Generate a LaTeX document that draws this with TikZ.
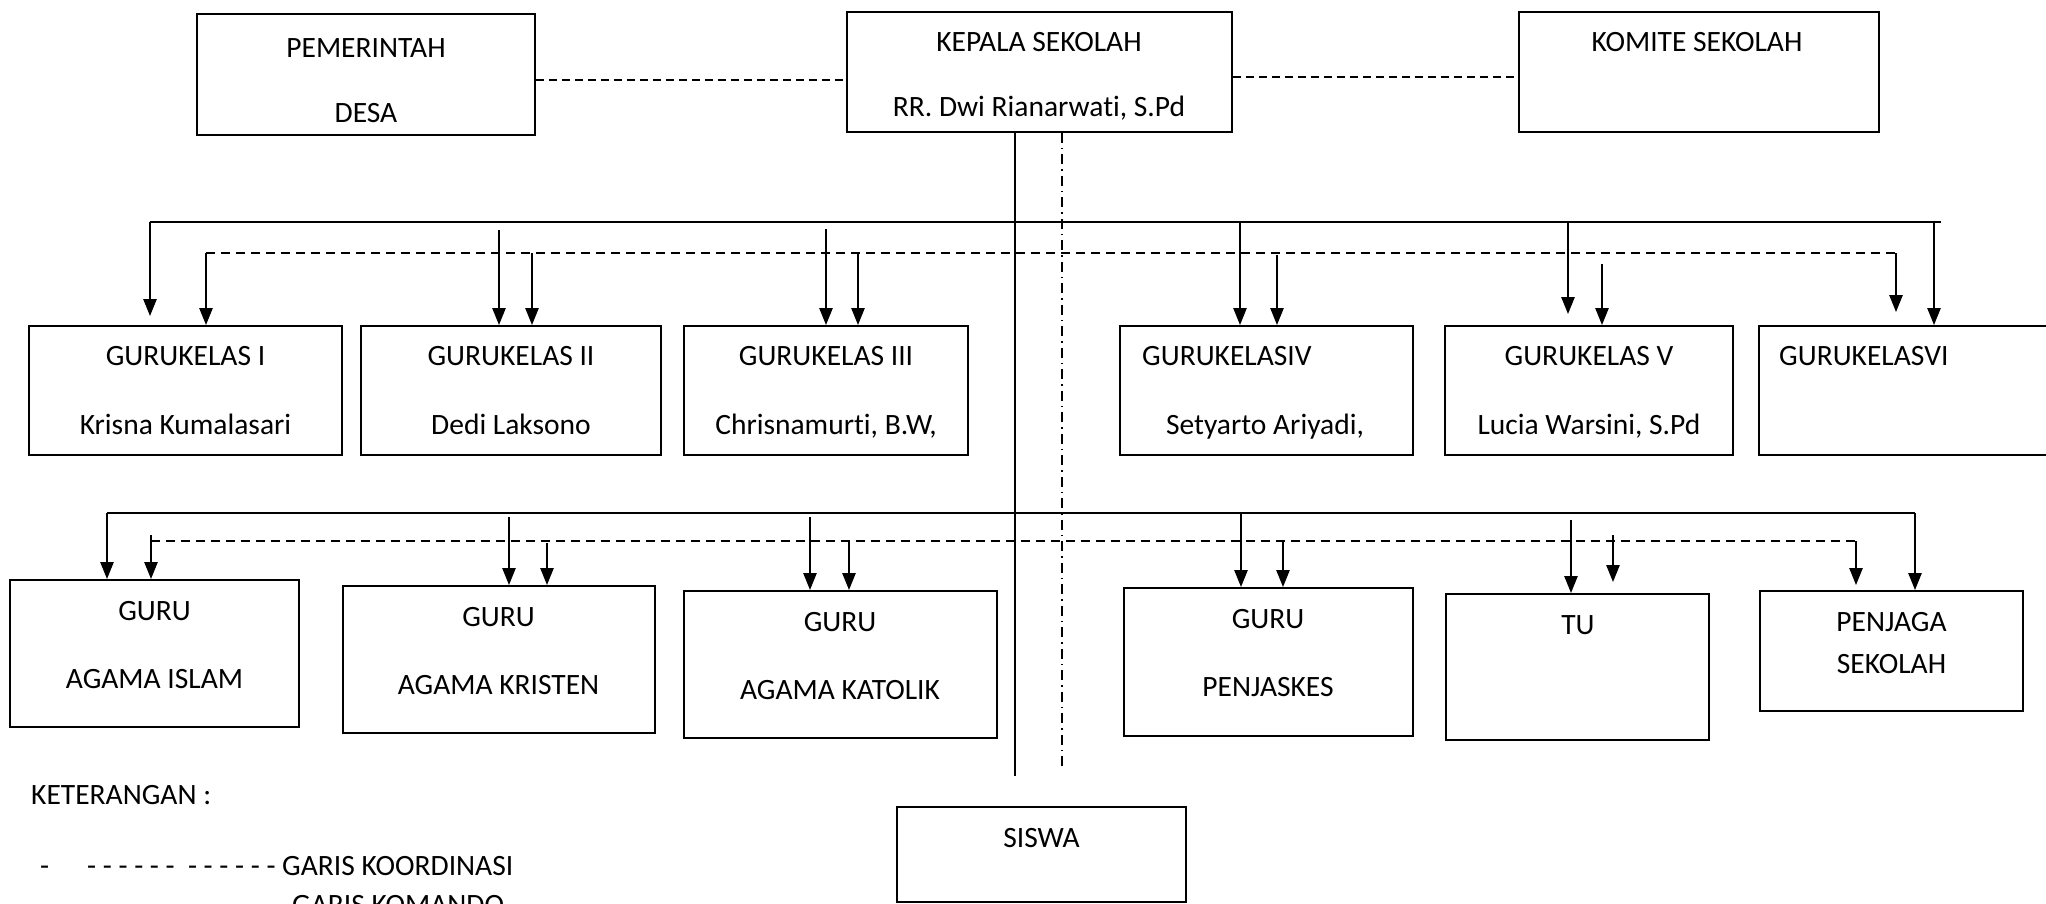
\documentclass[tikz,border=0pt]{standalone}
\usepackage{fontspec}
\setmainfont{Carlito}[Ligatures={TeX,NoCommon}]
\usetikzlibrary{arrows.meta}

\tikzset{
  kotak/.style={draw, line width=1.8pt, inner sep=0pt},
  teks/.style={font=\fontsize{29.5}{35}\selectfont, inner sep=0pt, anchor=base},
  komando/.style={line width=2.4pt},
  panah/.style={line width=2.4pt, -{Triangle[length=17pt,width=13pt]}},
  koord/.style={line width=2pt, dash pattern=on 9pt off 6pt},
  koordatas/.style={line width=2pt, dash pattern=on 8pt off 5pt},
  titiksiswa/.style={line width=1.8pt, dash pattern=on 10pt off 5pt on 1.5pt off 5pt},
}

\begin{document}
\begin{tikzpicture}[x=1pt,y=-1pt]
\useasboundingbox (0,0) rectangle (2046,903);
% atas
  \node[kotak, minimum width=338pt, minimum height=121pt] (pemda) at (366,74.5) {};
  \node[kotak, minimum width=385pt, minimum height=120pt] (kepsek) at (1039.5,72) {};
  \node[kotak, minimum width=360pt, minimum height=120pt] (komite) at (1699,72) {};
  \node[teks] (pemda1) at (366,57.5) {PEMERINTAH};
  \node[teks] (pemda2) at (366,122.5) {DESA};
  \node[teks] (kepsek1) at (1039,51.5) {KEPALA SEKOLAH};
  \node[teks] (kepsek2) at (1039,116.5) {RR. Dwi Rianarwati, S.Pd};
  \node[teks] (komite1) at (1697,51.5) {KOMITE SEKOLAH};
  \draw[koordatas] (pemda.east |- 0,80) -- (kepsek.west |- 0,80);
  \draw[koordatas] (kepsek.east |- 0,77) -- (komite.west |- 0,77);
% guru kelas
  \node[kotak, minimum width=313pt, minimum height=129pt] (gk1) at (185.5,390.5) {};
  \node[kotak, minimum width=300pt, minimum height=129pt] (gk2) at (511,390.5) {};
  \node[kotak, minimum width=284pt, minimum height=129pt] (gk3) at (826,390.5) {};
  \node[kotak, minimum width=293pt, minimum height=129pt] (gk4) at (1266.5,390.5) {};
  \node[kotak, minimum width=288pt, minimum height=129pt] (gk5) at (1589,390.5) {};
  \node[kotak, minimum width=301pt, minimum height=129pt] (gk6) at (1909.5,390.5) {};
  \node[teks] (gk1a) at (185.5,365.5) {GURUKELAS I};
  \node[teks] (gk1b) at (185.5,434.5) {Krisna Kumalasari};
  \node[teks] (gk2a) at (511,365.5) {GURUKELAS II};
  \node[teks] (gk2b) at (511,434.5) {Dedi Laksono};
  \node[teks] (gk3a) at (826,365.5) {GURUKELAS III};
  \node[teks] (gk3b) at (826,434.5) {Chrisnamurti, B.W,};
  \node[teks, anchor=base west] (gk4a) at (1142,365.5) {GURUKELASIV};
  \node[teks] (gk4b) at (1265,434.5) {Setyarto Ariyadi,};
  \node[teks] (gk5a) at (1589,365.5) {GURUKELAS V};
  \node[teks] (gk5b) at (1589,434.5) {Lucia Warsini, S.Pd};
  \node[teks, anchor=base west] (gk6a) at (1779,365.5) {GURUKELASVI};
% guru mapel
  \node[kotak, minimum width=289pt, minimum height=147pt] (islam) at (154.5,653.5) {};
  \node[kotak, minimum width=312pt, minimum height=147pt] (kristen) at (499,659.5) {};
  \node[kotak, minimum width=313pt, minimum height=147pt] (katolik) at (840.5,664.5) {};
  \node[kotak, minimum width=289pt, minimum height=148pt] (penjas) at (1268.5,662) {};
  \node[kotak, minimum width=263pt, minimum height=146pt] (tu) at (1577.5,667) {};
  \node[kotak, minimum width=263pt, minimum height=120pt] (penjaga) at (1891.5,651) {};
  \node[teks] (islam1) at (154.5,620.5) {GURU};
  \node[teks] (islam2) at (154.5,688.5) {AGAMA ISLAM};
  \node[teks] (kristen1) at (498.5,626.5) {GURU};
  \node[teks] (kristen2) at (498.5,694.5) {AGAMA KRISTEN};
  \node[teks] (katolik1) at (840,631.5) {GURU};
  \node[teks] (katolik2) at (840,699.5) {AGAMA KATOLIK};
  \node[teks] (penjas1) at (1268,628.5) {GURU};
  \node[teks] (penjas2) at (1268,696.5) {PENJASKES};
  \node[teks] (tu1) at (1578,634.5) {TU};
  \node[teks] (penjaga1) at (1891.5,631.5) {PENJAGA};
  \node[teks] (penjaga2) at (1891.5,673.5) {SEKOLAH};
% siswa
  \node[kotak, minimum width=289pt, minimum height=95pt] (siswa) at (1041.5,854.5) {};
  \node[teks] (siswa1) at (1041.5,847.5) {SISWA};
% garis
  \coordinate (busA) at (0,222);
  \coordinate (putusA) at (0,253);
  \coordinate (busB) at (0,513);
  \coordinate (putusB) at (0,541);
  \draw[line width=1.8pt] (kepsek.south -| 1015,0) -- ([yshift=30pt]siswa.north -| 1015,0);
  \draw[titiksiswa] (kepsek.south -| 1062,0) -- ([yshift=35pt]siswa.north -| 1062,0);
  \draw[komando] (150,0 |- busA) -- (1941,0 |- busA);
  \draw[koord] (206,0 |- putusA) -- (1896,0 |- putusA);
  \draw[komando] (107,0 |- busB) -- (1915,0 |- busB);
  \draw[koord] (151,0 |- putusB) -- (1856,0 |- putusB);
  % panah baris 1
  \foreach \x/\y/\b/\s in {150/222/gk1/9, 499/230/gk2/0, 826/229/gk3/0, 1240/222/gk4/0,
      1568/222/gk5/11, 1934/222/gk6/0, 206/253/gk1/0, 532/253/gk2/0, 858/253/gk3/0,
      1277/255/gk4/0, 1602/264/gk5/0, 1896/253/gk6/13}
    \draw[panah, shorten >=\s pt] (\x,\y) -- (\x,0 |- \b.north);
  % panah baris 2
  \foreach \x/\y/\b/\s in {107/513/islam/0, 509/517/kristen/0, 810/517/katolik/0,
      1241/513/penjas/0, 1571/520/tu/0, 1915/513/penjaga/0, 151/535/islam/0,
      547/543/kristen/0, 849/541/katolik/0, 1283/541/penjas/0, 1613/535/tu/11,
      1856/541/penjaga/5}
    \draw[panah, shorten >=\s pt] (\x,\y) -- (\x,0 |- \b.north);
% keterangan
  \node[teks, anchor=base west] (ket) at (31,804.5) {KETERANGAN :};
  \node[teks, anchor=base west] (ket1) at (40,875.5) {-};
  \node[teks, anchor=base west] (ket2) at (87,875.5) {- - - - - -\ \ - - - - - - GARIS KOORDINASI};
  \node[teks, anchor=base west] (ket3) at (292,914) {GARIS KOMANDO};
\end{tikzpicture}
\end{document}
